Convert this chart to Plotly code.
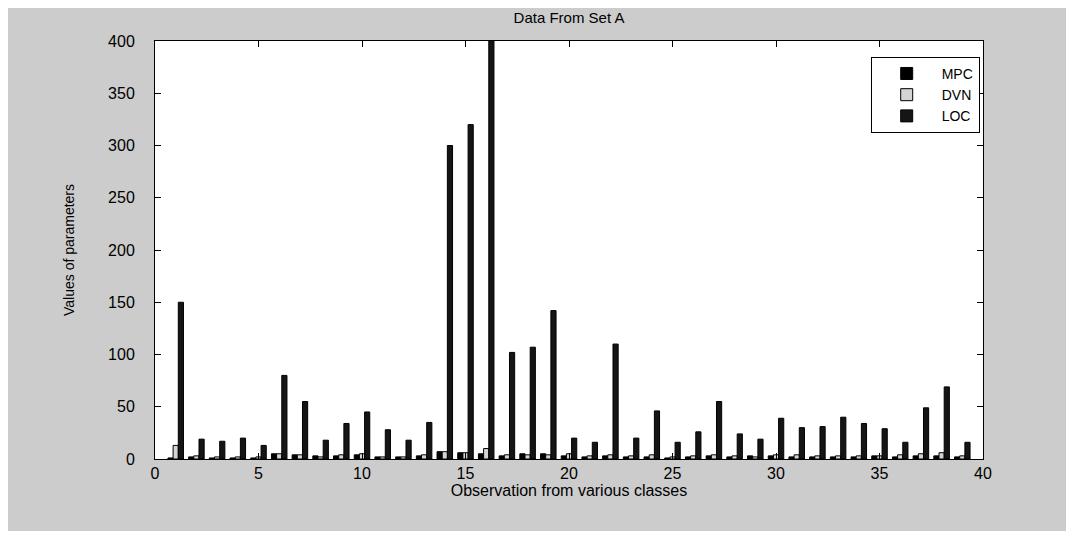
import plotly.graph_objects as go

observations = list(range(1, 40))
mpc = [1, 2, 1, 1, 1, 5, 4, 3, 3, 4, 2, 2, 3, 7, 6, 5, 3, 5, 5, 3,
       2, 3, 2, 2, 1, 2, 3, 2, 3, 3, 2, 2, 2, 2, 3, 2, 3, 3, 2]
dvn = [13, 3, 2, 2, 2, 5, 4, 2, 4, 5, 2, 2, 4, 7, 6, 10, 4, 4, 4, 5,
       3, 4, 3, 4, 2, 3, 4, 3, 2, 4, 4, 3, 3, 3, 3, 4, 5, 6, 3]
loc = [150, 19, 17, 20, 13, 80, 55, 18, 34, 45, 28, 18, 35, 300, 320, 450, 102, 107, 142, 20,
       16, 110, 20, 46, 16, 26, 55, 24, 19, 39, 30, 31, 40, 34, 29, 16, 49, 69, 16]
x_ticks = [0, 5, 10, 15, 20, 25, 30, 35, 40]
y_ticks = [0, 50, 100, 150, 200, 250, 300, 350, 400]

fig = go.Figure()
for name, vals, col in [("MPC", mpc, "#000000"), ("DVN", dvn, "#d4d4d4"), ("LOC", loc, "#151515")]:
    fig.add_trace(go.Bar(x=observations, y=vals, name=name, marker=dict(color=col, line=dict(color="#000000", width=1))))

L, R, T, B = 147, 975, 33, 451
W, H = 1076, 537
pw, ph = R - L, B - T
# white strips at right and bottom edges of the image
fig.add_shape(type="rect", xref="paper", yref="paper",
              x0=(1058 - L) / pw, x1=(W + 5 - L) / pw, y0=(B - H - 5) / ph, y1=(B + 5) / ph,
              fillcolor="#ffffff", line=dict(width=0), layer="below")
fig.add_shape(type="rect", xref="paper", yref="paper",
              x0=(-5 - L) / pw, x1=(W + 5 - L) / pw, y0=(B - H - 5) / ph, y1=(B - 523) / ph,
              fillcolor="#ffffff", line=dict(width=0), layer="below")

axis_common = dict(showgrid=False, zeroline=False, showline=True, linecolor="#000000", linewidth=1,
                   mirror="ticks", ticks="inside", ticklen=6, tickcolor="#000000",
                   tickfont=dict(family="Liberation Sans, Arial", size=16, color="#000000"))
fig.update_layout(
    width=W, height=H,
    margin=dict(l=L, r=W - R, t=T, b=H - B),
    paper_bgcolor="#cccccc", plot_bgcolor="#ffffff",
    barmode="group", bargap=0.25, bargroupgap=0.0,
    title=dict(text="Data From Set A", x=(L + R) / 2 / W, xanchor="center", y=1 - 4 / H, yanchor="top",
               pad=dict(t=0, b=0, l=0, r=0),
               font=dict(family="Liberation Sans, Arial", size=15, color="#000000")),
    xaxis=dict(range=[0, 40], tickvals=x_ticks,
               title=dict(text="Observation from various classes", standoff=0,
                          font=dict(family="Liberation Sans, Arial", size=16, color="#000000")),
               **axis_common),
    yaxis=dict(range=[0, 400], tickvals=y_ticks, ticklabelstandoff=16,
               title=dict(text="Values of parameters", standoff=30,
                          font=dict(family="Liberation Sans, Arial", size=14, color="#000000")),
               **axis_common),
    legend=dict(x=0.996, y=0.962, xanchor="right", yanchor="top", bgcolor="#ffffff",
                bordercolor="#000000", borderwidth=1, tracegroupgap=0, itemwidth=60,
                font=dict(family="Liberation Sans, Arial", size=14, color="#000000")),
    showlegend=True,
)

fig.write_html("out.html")
